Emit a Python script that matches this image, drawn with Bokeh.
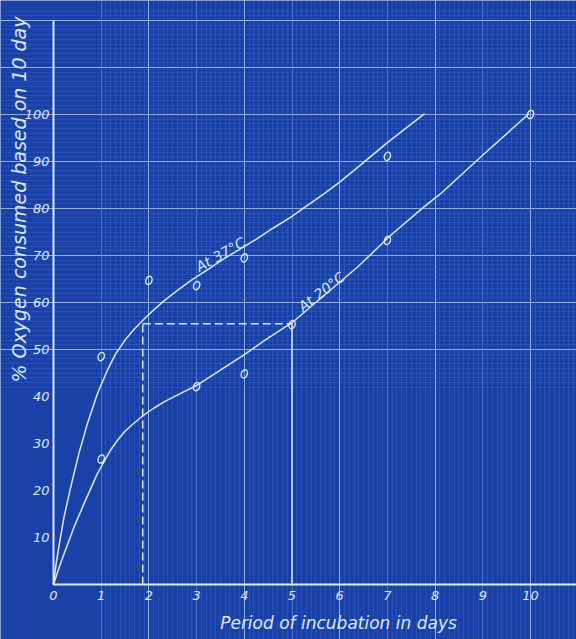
from bokeh.plotting import figure
from bokeh.models import Range1d, Grid, SingleIntervalTicker, FixedTicker, LinearAxis
from bokeh.core.properties import value
from bokeh.embed import file_html
from bokeh.resources import INLINE

# ---------------- data ----------------
days_37 = [1, 2, 3, 4, 7]
oxygen_37 = [48.5, 64.7, 63.6, 69.5, 91.1]

days_20 = [1, 3, 4, 5, 7, 10]
oxygen_20 = [26.7, 42.1, 44.8, 55.3, 73.2, 100.0]

# hand-drawn smooth curves
curve37_days = [0, 0.05, 0.11, 0.22, 0.36, 0.53, 0.71, 0.92, 1.13, 1.30,
                1.50, 1.70, 1.90, 2.10, 2.31, 2.60, 2.87, 3.20, 3.57, 3.90,
                4.27, 4.60, 4.97, 5.30, 5.67, 6.00, 6.30, 7.00, 7.78]
curve37_oxygen = [0, 4.0, 7.9, 14.3, 20.7, 27.8, 34.2, 40.6, 45.6, 49.0,
                  52.0, 54.4, 56.5, 58.4, 60.3, 62.6, 64.6, 66.8, 69.3, 71.3,
                  73.6, 75.8, 78.1, 80.5, 83.1, 85.6, 88.1, 94.0, 100.2]

curve20_days = [0, 0.10, 0.22, 0.43, 0.64, 0.92, 1.19, 1.35, 1.50, 1.65,
                1.86, 2.10, 2.31, 2.50, 2.73, 3.01, 3.50, 4.00, 4.45, 5.00,
                5.67, 6.37, 7.07, 7.76, 8.11, 8.95, 9.96]
curve20_oxygen = [0, 3.1, 6.5, 12.2, 17.2, 23.6, 28.5, 30.8, 32.6, 34.0,
                  35.8, 37.5, 38.8, 39.8, 41.0, 42.4, 45.6, 48.9, 52.1, 55.7,
                  61.5, 67.5, 74.3, 80.3, 83.1, 90.9, 100.1]

# equal-consumption guide (37 C at ~2 days == 20 C at 5 days)
equal_level = 55.5
equal_days = [1.87, 5.0]

x_ticks = [0, 1, 2, 3, 4, 5, 6, 7, 8, 9, 10]
y_ticks = [10, 20, 30, 40, 50, 60, 70, 80, 90, 100]

label_37 = "At 37°C"
label_20 = "At 20°C"
x_title = "Period of incubation in days"
y_title = "% Oxygen consumed based on 10 day"

# ---------------- styling ----------------
BG = "#1a41a8"
MINOR = "#3f72d8"
MAJOR = "#6e9cf0"
FG = "#dde8ff"
FONT = "DejaVu Sans"

W, H = 576, 639
X0_PX, Y0_PX = 53, 584
PX_PER_DAY = 47.7
PX_PER_PCT = 4.7

x_range = Range1d(-X0_PX / PX_PER_DAY, (W - X0_PX) / PX_PER_DAY)
y_range = Range1d(-(H - Y0_PX) / PX_PER_PCT, Y0_PX / PX_PER_PCT)

p = figure(width=W, height=H, x_range=x_range, y_range=y_range,
           output_backend="svg", toolbar_location=None, min_border=0,
           x_axis_location=None, y_axis_location=None,
           background_fill_color=BG, border_fill_color=BG,
           outline_line_color=None)

# graph-paper grid
for dim, interval in ((0, 1), (1, 10)):
    g = Grid(dimension=dim,
             ticker=SingleIntervalTicker(interval=interval, num_minor_ticks=10),
             grid_line_color=MAJOR, grid_line_alpha=0.45, grid_line_width=1,
             minor_grid_line_color=MINOR, minor_grid_line_alpha=0.32,
             minor_grid_line_width=1)
    p.add_layout(g)

common_axis = dict(major_tick_line_color=None, minor_tick_line_color=None,
                   major_tick_in=0, major_tick_out=0,
                   minor_tick_in=0, minor_tick_out=0,
                   axis_line_color=FG, axis_line_width=2,
                   major_label_text_color=FG,
                   major_label_text_font=FONT,
                   major_label_text_font_style="italic",
                   major_label_text_font_size="13px")

xaxis = LinearAxis(fixed_location=0, bounds=(0, x_range.end),
                   ticker=FixedTicker(ticks=x_ticks),
                   major_label_standoff=6, **common_axis)
p.add_layout(xaxis, "below")

yaxis = LinearAxis(fixed_location=0, bounds=(0, 120),
                   ticker=FixedTicker(ticks=y_ticks),
                   major_label_standoff=4, **common_axis)
p.add_layout(yaxis, "left")

title_axis = dict(ticker=FixedTicker(ticks=[]), axis_line_color=None,
                  major_tick_line_color=None, minor_tick_line_color=None,
                  major_tick_in=0, major_tick_out=0,
                  minor_tick_in=0, minor_tick_out=0,
                  major_label_text_font_size="0px",
                  axis_label_text_color=FG, axis_label_text_font=FONT,
                  axis_label_text_font_style="italic",
                  axis_label_standoff=0)

xt = LinearAxis(fixed_location=-5.9, bounds=(1.0, 10.94),
                axis_label=x_title, axis_label_text_font_size="17px",
                **title_axis)
p.add_layout(xt, "below")

yt = LinearAxis(fixed_location=-0.50, bounds=(42.0, 122.0),
                axis_label=y_title, axis_label_text_font_size="19px",
                **title_axis)
p.add_layout(yt, "left")

# guide lines
p.line([equal_days[0], equal_days[1]], [equal_level, equal_level],
       line_color=FG, line_width=1.5, line_dash="8 4")
p.line([equal_days[0], equal_days[0]], [0, equal_level],
       line_color=FG, line_width=1.5, line_dash="8 4")
p.line([equal_days[1], equal_days[1]], [0, equal_level],
       line_color=FG, line_width=1.5)

# curves
p.line(curve37_days, curve37_oxygen, line_color=FG, line_width=1.5)
p.line(curve20_days, curve20_oxygen, line_color=FG, line_width=1.5)

# observations
for xs, ys in ((days_37, oxygen_37), (days_20, oxygen_20)):
    p.ellipse(x=xs, y=ys, width=6, height=8.5, width_units="screen",
              height_units="screen", angle=-0.35, fill_color=None,
              line_color=FG, line_width=1.4)

# curve labels
p.text(x=[3.50], y=[70.2], text=[label_37], angle=0.52,
       text_align="center", text_baseline="middle",
       text_font=value(FONT), text_font_style="italic",
       text_font_size="14px", text_color=FG)
p.text(x=[5.62], y=[62.3], text=[label_20], angle=0.66,
       text_align="center", text_baseline="middle",
       text_font=value(FONT), text_font_style="italic",
       text_font_size="14px", text_color=FG)

open("out.html", "w").write(file_html(p, INLINE))
